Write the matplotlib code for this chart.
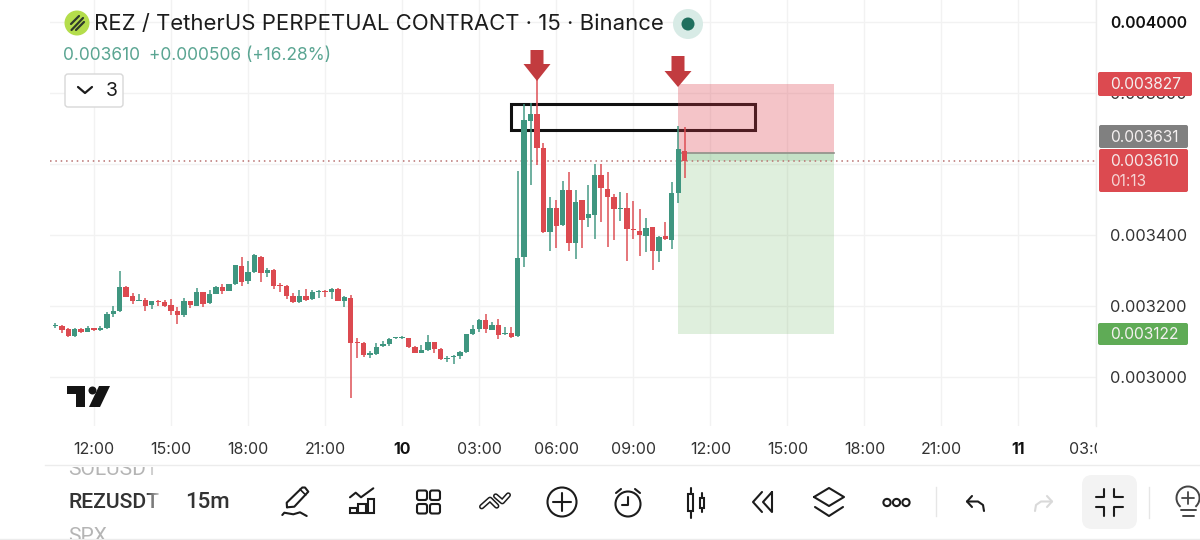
import numpy as np
import matplotlib
matplotlib.use('Agg')
import matplotlib.pyplot as plt
from matplotlib.patches import Rectangle, Circle, Polygon, FancyBboxPatch, Arc
from matplotlib.transforms import ScaledTranslation

plt.rcParams['font.family'] = ['Inter', 'DejaVu Sans']

# bar index 0 is 12:00 on the 9th, one bar is 15 minutes
first_bar = -6
opens = [3143, 3144, 3135, 3116, 3135, 3128, 3137, 3132, 3137, 3178, 3187, 3255, 3228, 3214, 3217, 3202,
         3215, 3211, 3202, 3187, 3174, 3213, 3201, 3240, 3208, 3235, 3253, 3243, 3261, 3314, 3270, 3295,
         3338, 3292, 3303, 3260, 3257, 3228, 3211, 3229, 3219, 3240, 3243, 3241, 3249, 3215, 3222, 3097,
         3095, 3063, 3065, 3087, 3092, 3109, 3109, 3110, 3086, 3069, 3076, 3098, 3080, 3051, 3055, 3058,
         3070, 3121, 3134, 3161, 3133, 3146, 3120, 3123, 3115, 3337, 3723, 3741, 3645, 3410, 3476, 3428,
         3528, 3379, 3498, 3447, 3456, 3571, 3530, 3508, 3474, 3476, 3416, 3412, 3399, 3422, 3355, 3397,
         3387, 3520, 3638]
highs = [3151, 3146, 3137, 3137, 3137, 3145, 3138, 3143, 3184, 3201, 3300, 3256, 3236, 3233, 3223, 3215,
         3216, 3217, 3219, 3196, 3222, 3215, 3250, 3241, 3244, 3257, 3262, 3263, 3317, 3339, 3326, 3347,
         3341, 3308, 3304, 3266, 3260, 3238, 3245, 3247, 3244, 3244, 3244, 3250, 3250, 3228, 3230, 3109,
         3098, 3072, 3097, 3102, 3109, 3112, 3117, 3111, 3087, 3090, 3118, 3100, 3081, 3059, 3063, 3072,
         3122, 3146, 3164, 3177, 3154, 3164, 3141, 3142, 3582, 3770, 3773, 3851, 3659, 3507, 3499, 3553,
         3577, 3527, 3499, 3541, 3600, 3600, 3579, 3516, 3521, 3520, 3497, 3475, 3447, 3424, 3399, 3438,
         3551, 3708, 3706]
lows = [3139, 3125, 3114, 3112, 3125, 3127, 3129, 3130, 3136, 3168, 3184, 3225, 3207, 3213, 3187, 3192,
        3200, 3198, 3176, 3150, 3170, 3195, 3200, 3197, 3207, 3234, 3234, 3242, 3260, 3257, 3261, 3294,
        3268, 3281, 3247, 3241, 3220, 3210, 3210, 3215, 3217, 3222, 3225, 3220, 3214, 3197, 2942, 3053,
        3057, 3054, 3063, 3084, 3088, 3106, 3107, 3081, 3068, 3068, 3074, 3067, 3049, 3043, 3038, 3050,
        3069, 3119, 3126, 3123, 3132, 3106, 3118, 3110, 3114, 3309, 3541, 3598, 3405, 3356, 3365, 3427,
        3356, 3334, 3363, 3424, 3390, 3438, 3367, 3386, 3441, 3328, 3390, 3341, 3353, 3303, 3325, 3386,
        3361, 3492, 3560]
closes = [3146, 3133, 3116, 3134, 3128, 3138, 3132, 3138, 3178, 3186, 3254, 3227, 3214, 3216, 3200, 3214,
          3212, 3201, 3186, 3175, 3215, 3202, 3241, 3206, 3234, 3253, 3242, 3261, 3315, 3267, 3296, 3344,
          3293, 3302, 3258, 3257, 3228, 3211, 3228, 3217, 3239, 3243, 3240, 3248, 3215, 3226, 3095, 3095,
          3063, 3068, 3085, 3093, 3106, 3111, 3112, 3085, 3069, 3076, 3098, 3080, 3050, 3054, 3058, 3070,
          3120, 3134, 3162, 3134, 3148, 3119, 3125, 3114, 3335, 3725, 3741, 3645, 3410, 3476, 3426, 3526,
          3377, 3494, 3444, 3459, 3570, 3534, 3508, 3474, 3476, 3416, 3414, 3400, 3421, 3354, 3396, 3388,
          3520, 3642, 3609]

time_ticks = [0, 12, 24, 36, 48, 60, 72, 84, 96, 108, 120, 132, 144, 156]
time_labels = ['12:00', '15:00', '18:00', '21:00', '10', '03:00', '06:00', '09:00',
               '12:00', '15:00', '18:00', '21:00', '11', '03:00']
price_ticks = [3000, 3200, 3400, 3600, 3800, 4000]
price_labels = ['0.003000', '0.003200', '0.003400', '0.003600', '0.003800', '0.004000']

stop_price, entry_price, target_price, last_price = 3827, 3631, 3122, 3610
zone_high, zone_low = 3770, 3696
zone_start, zone_end = 64.9, 103
pos_start, pos_end = 91, 115.2

GREEN = '#3f9680'
RED = '#dc4a50'
INK = '#1c1c1c'

fig = plt.figure(figsize=(12, 5.4), dpi=100)
ax = fig.add_axes([50 / 1200, 1 - 426 / 540, 1046 / 1200, 426 / 540])
bar_px = 6.42
ax.set_xlim((50 - 94) / bar_px, (1096 - 94) / bar_px)
ax.set_ylim(3000 + (377 - 426) * 2.82, 3000 + 377 * 2.82)

for s in ax.spines.values():
    s.set_visible(False)
ax.grid(color='#f2f2f2', lw=1)
ax.set_axisbelow(True)
ax.yaxis.tick_right()
ax.set_xticks(time_ticks)
ax.set_xticklabels(time_labels, fontsize=11.5, color='#333333')
ax.set_yticks(price_ticks)
ax.set_yticklabels(price_labels, fontsize=11.8, color='#333333')
ax.tick_params(length=0)
ax.tick_params(axis='x', pad=11.5)
ax.tick_params(axis='y', pad=10)
for lab, txt in zip(ax.get_xticklabels(), time_labels):
    if len(txt) == 2:
        lab.set_fontweight('bold')
        lab.set_color('#111111')
ax.get_yticklabels()[-1].set_fontweight('semibold')
ax.get_yticklabels()[-1].set_fontsize(11.3)
ax.get_yticklabels()[-1].set_color('#111111')

# hand drawn zone sits under the translucent position tool
ax.add_patch(Rectangle((zone_start, zone_low), zone_end - zone_start, zone_high - zone_low,
                       fc='none', ec='#111111', lw=2.2, zorder=1.2))
ax.add_patch(Rectangle((pos_start, entry_price), pos_end - pos_start, stop_price - entry_price,
                       fc=(220 / 255, 60 / 255, 75 / 255), alpha=0.3, ec='none', zorder=1.5))
ax.add_patch(Rectangle((pos_start, target_price), pos_end - pos_start, entry_price - target_price,
                       fc=(90 / 255, 170 / 255, 75 / 255), alpha=0.19, ec='none', zorder=1.5))
ax.add_patch(Rectangle((pos_start, last_price), pos_end - pos_start, entry_price - last_price,
                       fc=(90 / 255, 170 / 255, 110 / 255), alpha=0.2, ec='none', zorder=1.6))
ax.plot([pos_start, pos_end], [entry_price, entry_price], color='#8f9088', lw=1.2, zorder=1.7)
ax.axhline(last_price, color='#b8706f', lw=1.1, ls=(0, (1, 2.5)), zorder=1.8)

xs = np.arange(first_bar, first_bar + len(opens))
o, h, l, c = [np.array(v) for v in (opens, highs, lows, closes)]
cols = [GREEN if a >= b else RED for a, b in zip(c, o)]
ax.vlines(xs, l, h, colors=cols, lw=1.25, alpha=0.85, zorder=2)
ax.bar(xs, np.maximum(np.abs(c - o), 3), bottom=np.minimum(o, c), width=0.84, color=cols, zorder=3)

# screen furniture is laid out in pixels on a second axes
ov = fig.add_axes([0, 0, 1, 1], facecolor='none')
ov.set_xlim(0, 1200)
ov.set_ylim(540, 0)
ov.axis('off')

# the last time label is cut off by the price scale
last_lab = ax.get_xticklabels()[-1]
last_lab.set_transform(last_lab.get_transform() + ScaledTranslation(-4 / 100, 0, fig.dpi_scale_trans))
last_lab.set_clip_path(Rectangle((1060, 430), 36.5, 35, transform=ov.transData))
last_lab.set_clip_on(True)


def line(xs_, ys_, color=INK, lw=1.5, **kw):
    ov.plot(xs_, ys_, color=color, lw=lw, solid_capstyle='round', solid_joinstyle='round', **kw)


def clipped_text(x, y, s, clip, **kw):
    t = ov.text(x, y, s, **kw)
    t.set_clip_path(Rectangle((clip[0], clip[1]), clip[2], clip[3], transform=ov.transData))
    t.set_clip_on(True)
    return t


def down_arrow(cx, top, neck, tip):
    ov.add_patch(Polygon([(cx - 6.5, top), (cx + 6.5, top), (cx + 6.5, neck), (cx + 13.5, neck), (cx, tip),
                          (cx - 13.5, neck), (cx - 6.5, neck)], fc='#c23b3f', ec='none', zorder=5))


down_arrow(537, 50, 64, 81)
down_arrow(678, 56, 71, 87)

ov.plot([1096, 1096], [0, 426], color='#ececec', lw=1)
ov.plot([45, 1200], [465, 465], color='#ececec', lw=1)
ov.plot([0, 1200], [539, 539], color='#ececec', lw=1)

# header
ov.add_patch(Circle((77, 23), 12.5, fc='#b4dd4c', ec='none'))
line([71, 79], [24, 16], color='#2f3b2a', lw=1.6)
line([71.5, 83], [30, 18], color='#2f3b2a', lw=1.6)
line([76, 84], [30, 22], color='#2f3b2a', lw=1.6)
ov.text(94, 24.5, 'REZ / TetherUS PERPETUAL CONTRACT · 15 · Binance', fontsize=15.92, color=INK, va='center')
ov.add_patch(Circle((688, 24), 15, fc='#d8ebe6', ec='none'))
ov.add_patch(Circle((688, 24), 6.5, fc='#1f6f5e', ec='none'))
ov.text(63, 56, '0.003610', fontsize=12.5, color='#5aa592', va='center')
ov.text(149, 56, '+0.000506 (+16.28%)', fontsize=12.5, color='#5aa592', va='center')
ov.add_patch(FancyBboxPatch((65, 74), 58, 33, boxstyle='round,pad=0,rounding_size=3', fc='white', ec='#d8d8d8', lw=1))
line([78, 85, 92], [87, 93, 87], lw=1.6)
ov.text(112, 91, '3', fontsize=14, color=INK, ha='center', va='center')

# TradingView mark
ov.add_patch(Polygon([(67, 386), (85, 386), (85, 407), (76, 407), (76, 394), (67, 394)], fc='#141414', ec='none'))
ov.add_patch(Circle((92.5, 390.5), 4, fc='#141414', ec='none'))
ov.add_patch(Polygon([(99, 386), (110, 386), (100, 407), (89, 407)], fc='#141414', ec='none'))

# price labels
labels = [(1098, 72, 94, 24, RED, '0.003827'), (1099, 125, 89, 23, '#808080', '0.003631'),
          (1099, 149, 89, 43, RED, None), (1098, 323, 90, 22, '#5fab56', '0.003122')]
for x0, y0, w, hh, col, txt in labels:
    ov.add_patch(FancyBboxPatch((x0, y0), w, hh, boxstyle='round,pad=0,rounding_size=2', fc=col, ec='none', zorder=6))
    if txt:
        ov.text(1110, y0 + hh / 2 + 0.5, txt, fontsize=11.2, color='#f4f0f0', va='center', zorder=7)
ov.text(1110, 161, '0.003610', fontsize=11.2, color='#f6e8e8', va='center', zorder=7)
ov.text(1110, 181, '01:13', fontsize=11, color='#f6d4d4', va='center', zorder=7)

# bottom toolbar
clipped_text(68, 469.5, 'SOLUSDT', (60, 466.5, 110, 20), fontsize=15, color='#b5b5b5', family='Roboto', va='center')
ov.text(68, 502, 'REZUSDT', fontsize=15.2, color='#333333', family='Roboto', weight='medium', va='center')
clipped_text(68, 536, 'SPX', (60, 520, 110, 18.5), fontsize=15, color='#b5b5b5', family='Roboto', va='center')
ov.text(185, 502, '15m', fontsize=16, color='#333333', family='Roboto', weight='medium', va='center')
ramp = np.ones((1, 30, 4))
ramp[0, :, 3] = np.linspace(0, 1, 30)
ov.imshow(ramp, extent=(146, 164, 538, 467), aspect='auto', zorder=8)
ov.set_xlim(0, 1200)
ov.set_ylim(540, 0)

# pencil
line([287, 286.7, 302.3, 305, 308.3, 294.3, 287], [507.3, 502.7, 487.5, 487.5, 491.7, 506.7, 507.3])
line([300, 305.7], [489.3, 495], lw=1.2)
line([282.3, 284.3, 293.3, 300, 306.7], [515, 512.7, 514.3, 512.3, 516])
# chart growth
line([350, 355.7, 361, 373.3], [497.3, 492.7, 497.3, 488.3])
for x0, x1, y0 in ((350, 356.7, 507.7), (358, 365.7, 504), (367.7, 374, 499.3)):
    ov.add_patch(Rectangle((x0, y0), x1 - x0, 512.7 - y0, fc='none', ec=INK, lw=1.5))
# layouts
for x0 in (417, 430):
    for y0 in (490.5, 504):
        ov.add_patch(FancyBboxPatch((x0, y0), 10, 9.5, boxstyle='round,pad=0,rounding_size=2', fc='none', ec=INK, lw=1.5))
# templates, an outlined chevron up and an outlined chevron down
for px_, py_ in (([481.7, 490, 496.7], [506.7, 499.3, 506]), ([495.7, 502.3, 508.3], [496, 501.7, 495])):
    line(px_, py_, lw=3.9)
    line(px_, py_, color='white', lw=1.7)
# add
ov.add_patch(Circle((562, 502), 14.5, fc='none', ec=INK, lw=1.5))
line([553, 571], [502, 502])
line([562, 562], [493, 511])
# alarm
ov.add_patch(Circle((628, 504), 12.5, fc='none', ec=INK, lw=1.5))
line([628, 628, 622], [497, 505, 505])
line([616, 621], [493, 489])
line([640, 635], [493, 489])
# candles
ov.add_patch(Rectangle((688, 494), 5, 17, fc='none', ec=INK, lw=1.5))
line([690.5, 690.5], [488, 494])
line([690.5, 690.5], [511, 518])
ov.add_patch(Rectangle((700, 498), 4, 10, fc='none', ec=INK, lw=1.5))
line([702, 702], [493, 498])
line([702, 702], [508, 512])
# replay
line([772, 772, 763, 772], [492, 512, 502, 492])
line([762, 753, 762], [492, 502, 512])
# layers
line([814, 829, 844, 829, 814], [497, 488, 497, 506, 497])
line([815, 829, 843], [507, 516, 507])
# more
for x0 in (887, 896.5, 906):
    ov.add_patch(Circle((x0, 502.5), 3.6, fc='none', ec=INK, lw=1.5))
ov.plot([936, 936], [487, 516], color='#e6e6e6', lw=1)
# undo and redo
line([972, 967, 972], [496, 501.5, 507])
line([967, 978, 983, 984], [501.5, 501.5, 505, 511])
line([1047, 1052, 1047], [496, 501.5, 507], color='#d9d9d9')
line([1052, 1041, 1036, 1035], [501.5, 501.5, 505, 511], color='#d9d9d9')
# collapse
ov.add_patch(FancyBboxPatch((1082, 475), 55, 54, boxstyle='round,pad=0,rounding_size=10', fc='#f3f3f3', ec='none'))
line([1096, 1104, 1104], [497, 497, 489])
line([1123, 1114, 1114], [497, 497, 489])
line([1096, 1104, 1104], [507, 507, 516])
line([1123, 1114, 1114], [507, 507, 516])
ov.plot([1149, 1149], [487, 518], color='#e6e6e6', lw=1)
# bulb
ov.add_patch(Arc((1188, 498), 23, 23, theta1=130, theta2=410, ec='#444444', lw=1.4))
line([1181, 1196], [510, 510], color='#444444', lw=1.4)
line([1183, 1194], [515.5, 515.5], color='#444444', lw=1.4)
line([1188, 1188], [492, 504], color='#444444', lw=1.3)
line([1182, 1194], [498, 498], color='#444444', lw=1.3)

fig.savefig('out.png', dpi=100, facecolor='white')
